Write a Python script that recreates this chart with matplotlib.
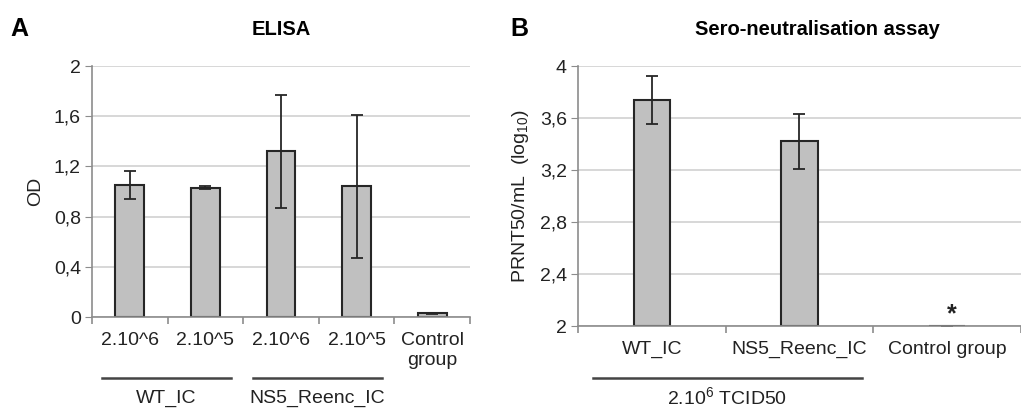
import numpy as np
import matplotlib
matplotlib.use("Agg")
import matplotlib.pyplot as plt

plt.rcParams['font.family'] = ['Liberation Sans', 'DejaVu Sans']
plt.rcParams['mathtext.fontset'] = 'custom'
plt.rcParams['mathtext.rm'] = 'Liberation Sans'
plt.rcParams['mathtext.it'] = 'Liberation Sans:italic'
plt.rcParams['mathtext.bf'] = 'Liberation Sans:bold'

# panel A - ELISA
elisa_labels = ["2.10^6", "2.10^5", "2.10^6", "2.10^5", "Control\ngroup"]
elisa_od = [1.05, 1.03, 1.32, 1.04, 0.03]
elisa_err = [0.11, 0.01, 0.45, 0.57, 0.005]
elisa_groups = ["WT_IC", "NS5_Reenc_IC"]
elisa_yticks = [0, 0.4, 0.8, 1.2, 1.6, 2.0]

# panel B - sero-neutralisation
prnt_labels = ["WT_IC", "NS5_Reenc_IC", "Control group"]
prnt_vals = [3.74, 3.42, 2.0]
prnt_err = [0.185, 0.21, 0.0]
prnt_yticks = [2.0, 2.4, 2.8, 3.2, 3.6, 4.0]

bar_col = "#c0c0c0"
edge_col = "#262626"
grid_col = "#d4d4d4"
spine_col = "#8c8c8c"
txt_col = "#222222"
fs = 14

def fmt(v):
    s = ("%.1f" % v).rstrip("0").rstrip(".")
    return s.replace(".", ",")

def style_axis(ax, n, yticks):
    ax.set_yticks(yticks)
    ax.set_yticklabels([fmt(v) for v in yticks], fontsize=fs, color=txt_col)
    ax.yaxis.grid(True, color=grid_col, linewidth=1.3)
    ax.set_axisbelow(True)
    for s in ["top", "right"]:
        ax.spines[s].set_visible(False)
    ax.spines["left"].set_color(spine_col)
    ax.spines["bottom"].set_color(spine_col)
    ax.spines["left"].set_linewidth(1.2)
    ax.spines["bottom"].set_linewidth(1.2)
    ax.tick_params(axis="y", length=5, color=spine_col, pad=3)
    ax.tick_params(axis="x", which="major", length=0, pad=11)
    ax.set_xticks(np.arange(n + 1) - 0.5, minor=True)
    ax.tick_params(axis="x", which="minor", length=5, color=spine_col, width=1.2)

fig = plt.figure(figsize=(10.21, 4.09), dpi=100)

# ---- A
axA = fig.add_axes([0.0901, 0.2249, 0.3702, 0.6137])
x = np.arange(len(elisa_labels))
axA.bar(x, elisa_od, width=0.38, color=bar_col, edgecolor=edge_col, linewidth=1.5,
        yerr=elisa_err, error_kw=dict(ecolor=edge_col, elinewidth=1.3, capsize=4, capthick=1.3))
axA.set_xlim(-0.5, len(elisa_labels) - 0.5)
axA.set_ylim(0, 2)
style_axis(axA, len(elisa_labels), elisa_yticks)
axA.set_xticks(x)
axA.set_xticklabels(elisa_labels, fontsize=fs, color=txt_col, linespacing=1.2)
axA.set_ylabel("OD", fontsize=fs, color=txt_col, labelpad=7)
axA.set_title("ELISA", fontsize=14.5, fontweight="bold", pad=22)

trA = axA.get_xaxis_transform()
for i, g in enumerate(elisa_groups):
    x0 = 2 * i - 0.37
    x1 = 2 * i + 1.34
    axA.plot([x0, x1], [-0.243, -0.243], color="#444444", lw=1.8,
             transform=trA, clip_on=False)
    axA.text((x0 + x1) / 2, -0.325, g, transform=trA, ha="center", va="center",
             fontsize=fs, color=txt_col)

fig.text(0.01, 0.93, "A", fontsize=18, fontweight="bold", va="center")

# ---- B
axB = fig.add_axes([0.5661, 0.2029, 0.4339, 0.6357])
xb = np.arange(len(prnt_labels))
axB.bar(xb, np.array(prnt_vals) - 2.0, bottom=2.0, width=0.245, color=bar_col,
        edgecolor=edge_col, linewidth=1.5,
        yerr=prnt_err, error_kw=dict(ecolor=edge_col, elinewidth=1.3, capsize=4, capthick=1.3))
axB.set_xlim(-0.5, 2.453)
axB.set_ylim(2, 4)
style_axis(axB, len(prnt_labels), prnt_yticks)
axB.set_xticks(xb)
axB.set_xticklabels(prnt_labels, fontsize=fs, color=txt_col)
axB.set_ylabel("PRNT50/mL  (log$_{10}$)", fontsize=fs, color=txt_col, labelpad=6)
axB.set_title("Sero-neutralisation assay", fontsize=14.5, fontweight="bold", pad=22, x=0.54)
axB.text(xb[2] + 0.03, 2.0, "*", ha="center", va="bottom", fontsize=18,
         fontweight="bold", color=txt_col)

trB = axB.get_xaxis_transform()
axB.plot([-0.4, 1.42], [-0.2, -0.2], color="#444444", lw=1.8, transform=trB, clip_on=False)
axB.text(0.51, -0.275, "2.10$^6$ TCID50", transform=trB, ha="center", va="center",
         fontsize=fs, color=txt_col)

fig.text(0.5, 0.93, "B", fontsize=18, fontweight="bold", va="center")

fig.savefig("out.png", dpi=100)
